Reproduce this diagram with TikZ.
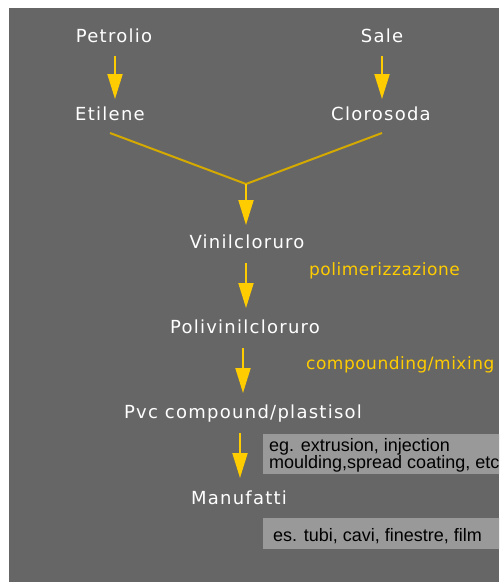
\documentclass[tikz,border=0pt]{standalone}
\usepackage{fontspec}
\usetikzlibrary{arrows.meta}
\newfontfamily\wfont[LetterSpace=7]{DejaVu Sans}
\newfontfamily\yfont[LetterSpace=3]{DejaVu Sans}
\newfontfamily\bfontx{Liberation Sans}
\definecolor{bg}{HTML}{666666}
\definecolor{boxg}{HTML}{999999}
\definecolor{arrowy}{HTML}{FFCC00}
\definecolor{liney}{HTML}{D4AA00}
\tikzset{
  wtext/.style={inner sep=0pt, anchor=base, text=white, font=\wfont\fontsize{18}{20}\selectfont},
  ytext/.style={inner sep=0pt, anchor=base west, text=arrowy, font=\yfont\fontsize{17}{19}\selectfont},
  btext/.style={inner sep=0pt, anchor=base west, text=black, align=left, font=\bfontx\fontsize{18}{17}\selectfont},
  arr/.style={draw=arrowy, line width=2pt, -{Triangle[length=25pt,width=15pt]}},
  branch/.style={draw=liney, line width=2pt},
}
\begin{document}
\begin{tikzpicture}[x=1pt,y=-1pt]
\useasboundingbox (0,0) rectangle (499,582);
\fill[white] (0,0) rectangle (499,582);
\fill[bg] (9,8) rectangle (499,582);
\begin{scope}
\clip (0,0) rectangle (499,582);
\fill[boxg] (263,434) rectangle (520,474);
\fill[boxg] (263,518) rectangle (520,549);
\node[btext] (ex) at (269,451) {eg. extrusion, injection};
\node[btext] (ex2) at (269,468) {moulding,spread coating, etc};
\node[btext] (es) at (273,541) {es. tubi, cavi, finestre, film};
\end{scope}
% nodes
\node[wtext] (petrolio) at (114,42) {Petrolio};
\node[wtext] (sale) at (382,42) {Sale};
\node[wtext] (etilene) at (110,120) {Etilene};
\node[wtext] (clorosoda) at (381,120) {Clorosoda};
\node[wtext] (vinil) at (247,248) {Vinilcloruro};
\node[wtext] (polivinil) at (245,333) {Polivinilcloruro};
\node[wtext] (pvc) at (243,418) {Pvc compound/plastisol};
\node[wtext] (manuf) at (239,504) {Manufatti};
\node[ytext] (polim) at (309,275) {polimerizzazione};
\node[ytext] (compo) at (306,369) {compounding/mixing};
\coordinate (j) at (246,184);
% connectors
\draw[arr] ([xshift=1pt,yshift=-14pt]petrolio.base) -- ([xshift=1pt,yshift=21pt]etilene.base -| petrolio.base);
\draw[arr] ([yshift=-14pt]sale.base) -- ([yshift=21pt]clorosoda.base -| sale.base);
\draw[branch] ([yshift=-13pt]etilene.base) -- (j);
\draw[branch] ([xshift=1pt,yshift=-13pt]clorosoda.base) -- (j);
\draw[arr] (j) -- ([yshift=23pt]vinil.base -| j);
\draw[arr] ([xshift=-1pt,yshift=-15pt]vinil.base) -- ([xshift=-1pt,yshift=25pt]polivinil.base -| vinil.base);
\draw[arr] ([xshift=-2pt,yshift=-15pt]polivinil.base) -- ([xshift=-2pt,yshift=25pt]pvc.base -| polivinil.base);
\draw[arr] ([xshift=-3pt,yshift=-15pt]pvc.base) -- ([xshift=-3pt,yshift=26pt]manuf.base -| pvc.base);
\end{tikzpicture}
\end{document}
